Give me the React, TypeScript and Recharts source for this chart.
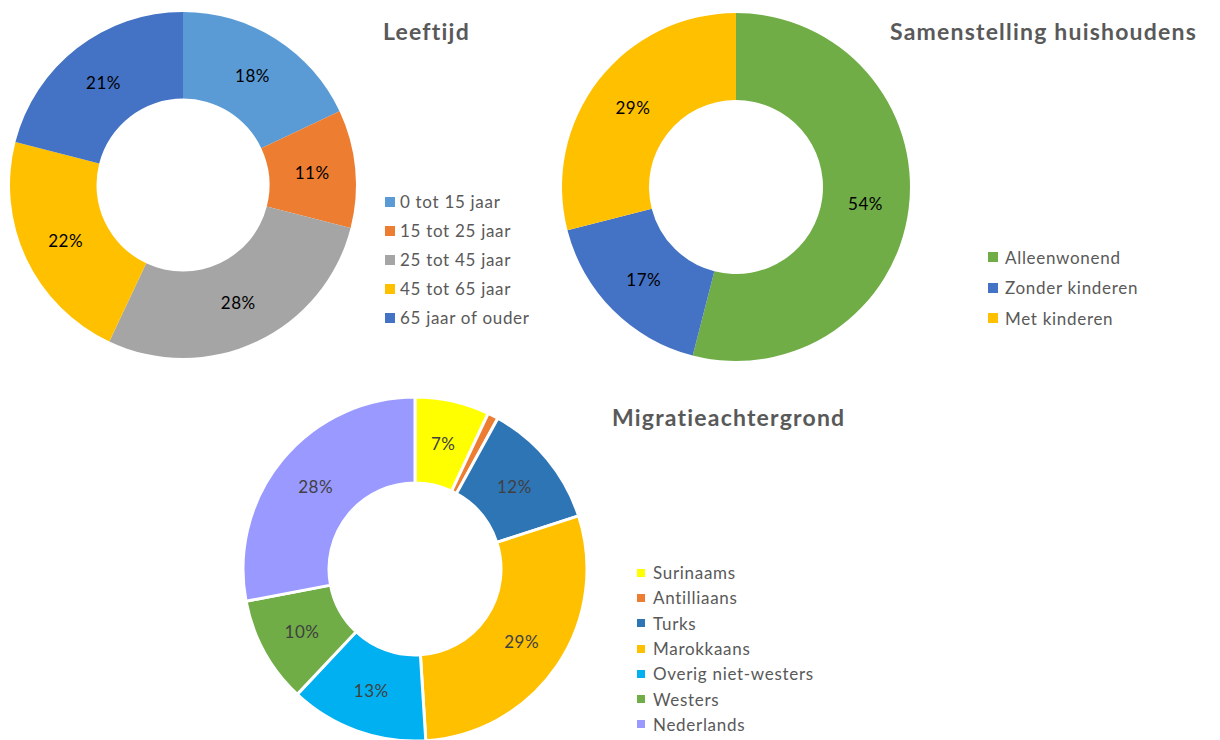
import { PieChart, Pie, Cell } from 'recharts'

// Leeftijd
const ageNames = ['0 tot 15 jaar', '15 tot 25 jaar', '25 tot 45 jaar', '45 tot 65 jaar', '65 jaar of ouder']
const ageValues = [18, 11, 28, 22, 21]
const ageColors = ['#5B9BD5', '#ED7D31', '#A5A5A5', '#FFC000', '#4472C4']

// Samenstelling huishoudens
const houseNames = ['Alleenwonend', 'Zonder kinderen', 'Met kinderen']
const houseValues = [54, 17, 29]
const houseColors = ['#70AD47', '#4472C4', '#FFC000']

// Migratieachtergrond
const migNames = ['Surinaams', 'Antilliaans', 'Turks', 'Marokkaans', 'Overig niet-westers', 'Westers', 'Nederlands']
const migValues = [7, 1, 12, 29, 13, 10, 28]
const migColors = ['#FFFF00', '#ED7D31', '#2E75B6', '#FFC000', '#00B0F0', '#70AD47', '#9999FF']

const FONT = 'Lato, "Open Sans", sans-serif'
const RAD = Math.PI / 180

const toData = (names: string[], values: number[]) =>
  names.map((name, i) => ({ name, value: values[i] }))

const makeLabel = (color: string) => (props: any) => {
  const { cx, cy, midAngle, innerRadius, outerRadius, value } = props
  if (value < 2) return null
  const r = (innerRadius + outerRadius) / 2
  const x = cx + r * Math.cos(-midAngle * RAD)
  const y = cy + r * Math.sin(-midAngle * RAD)
  return (
    <text x={x} y={y} fill={color} fontSize={17} letterSpacing={0.5} fontFamily={FONT} textAnchor="middle" dominantBaseline="central">
      {`${value}%`}
    </text>
  )
}

interface DonutProps {
  names: string[]
  values: number[]
  colors: string[]
  left: number
  top: number
  width: number
  height: number
  cx: number
  cy: number
  radius: number
  stroke?: string
  strokeWidth?: number
  labelColor: string
}

function Donut(p: DonutProps) {
  return (
    <div style={{ position: 'absolute', left: p.left, top: p.top }}>
      <PieChart width={p.width} height={p.height} margin={{ top: 0, right: 0, bottom: 0, left: 0 }}>
        <Pie
          data={toData(p.names, p.values)}
          dataKey="value"
          nameKey="name"
          cx={p.cx}
          cy={p.cy}
          outerRadius={p.radius}
          innerRadius={p.radius / 2}
          startAngle={90}
          endAngle={-270}
          stroke={p.stroke ?? 'none'}
          strokeWidth={p.strokeWidth ?? 0}
          label={makeLabel(p.labelColor)}
          labelLine={false}
          isAnimationActive={false}
        >
          {p.names.map((n, i) => (
            <Cell key={n} fill={p.colors[i]} />
          ))}
        </Pie>
      </PieChart>
    </div>
  )
}

function LegendBox({ names, colors, left, top, rowGap, box, gap }: { names: string[]; colors: string[]; left: number; top: number; rowGap: number; box: number; gap: number }) {
  return (
    <div style={{ position: 'absolute', left, top, fontFamily: FONT, fontSize: 17, letterSpacing: 0.7, color: '#595959' }}>
      {names.map((n, i) => (
        <div key={n} style={{ height: rowGap, display: 'flex', alignItems: 'center', whiteSpace: 'nowrap' }}>
          <span style={{ display: 'inline-block', width: box, height: box, background: colors[i], marginRight: gap }} />
          <span>{n}</span>
        </div>
      ))}
    </div>
  )
}

const titleStyle = {
  position: 'absolute' as const,
  fontFamily: FONT,
  fontWeight: 700,
  fontSize: 23,
  letterSpacing: 1.2,
  color: '#595959',
  whiteSpace: 'nowrap' as const,
}

export default function App() {
  return (
    <div style={{ position: 'absolute', left: 0, top: 0, width: 1220, height: 740, background: '#fff', overflow: 'hidden' }}>
      <Donut names={ageNames} values={ageValues} colors={ageColors}
        left={0} top={0} width={370} height={372} cx={183} cy={185} radius={173} labelColor="#000" />
      <div style={{ ...titleStyle, left: 383, top: 17 }}>Leeftijd</div>
      <LegendBox names={ageNames} colors={ageColors} left={385} top={187} rowGap={29} box={10} gap={5} />

      <Donut names={houseNames} values={houseValues} colors={houseColors}
        left={550} top={0} width={380} height={372} cx={186} cy={187} radius={174} labelColor="#000" />
      <div style={{ ...titleStyle, left: 890, top: 17 }}>Samenstelling huishoudens</div>
      <LegendBox names={houseNames} colors={houseColors} left={988} top={242} rowGap={30.5} box={10} gap={7} />

      <Donut names={migNames} values={migValues} colors={migColors}
        left={230} top={380} width={370} height={360} cx={185} cy={189} radius={172}
        stroke="#fff" strokeWidth={3} labelColor="#404040" />
      <div style={{ ...titleStyle, left: 612, top: 403 }}>Migratieachtergrond</div>
      <LegendBox names={migNames} colors={migColors} left={637} top={560} rowGap={25.3} box={8} gap={8} />
    </div>
  )
}
